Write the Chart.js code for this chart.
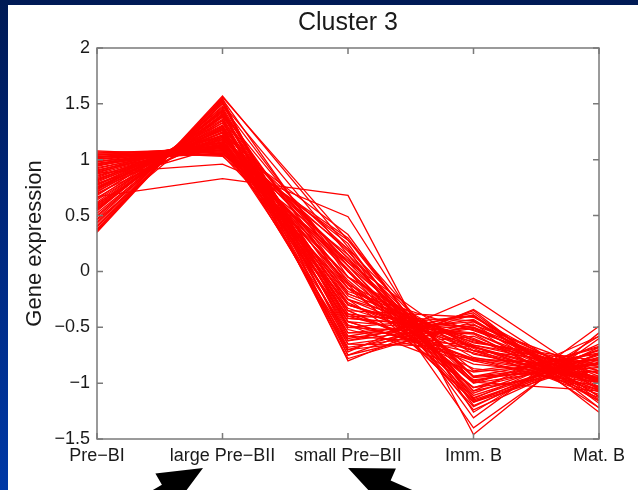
<!DOCTYPE html>
<html>
<head>
<meta charset="utf-8">
<script src="https://cdn.jsdelivr.net/npm/chart.js@4"></script>
<style>
  html, body { margin: 0; padding: 0; }
  body {
    width: 638px; height: 490px; overflow: hidden; position: relative;
    background: linear-gradient(180deg, #001a55 0%, #00277c 45%, #0039a6 100%);
  }
  .panel { position: absolute; left: 8px; top: 5px; right: 0; bottom: 0; background: #fff; }
  #myChart { position: absolute; left: 0; top: 0; }
</style>
</head>
<body>
<div class="panel"></div>
<canvas id="myChart" width="638" height="490"></canvas>
<script>
// stages on the x axis and the y ticks
const stages = ['Pre−BI', 'large Pre−BII', 'small Pre−BII', 'Imm. B', 'Mat. B'];
const yTicks = [-1.5, -1, -0.5, 0, 0.5, 1, 1.5, 2];

// expression of each gene in the cluster, one array per stage (same gene order)
const preBI = [1.08, 1.07, 1.06, 1.05, 1.05, 1.04, 1.03, 1.03, 1.02, 1.01,
  1.00, 1.00, 0.99, 0.98, 0.98, 0.97, 0.96, 0.96, 0.95, 0.95,
  0.94, 0.93, 0.92, 0.91, 0.90, 0.89, 0.88, 0.87, 0.86, 0.85,
  0.84, 0.83, 0.82, 0.81, 0.80, 0.79, 0.78, 0.78, 0.77, 0.76,
  0.75, 0.75, 0.74, 0.74, 0.73, 0.72, 0.71, 0.70, 0.69, 0.68,
  0.66, 0.65, 0.64, 0.62, 0.61, 0.60, 0.59, 0.58, 0.57, 0.56,
  0.56, 0.55, 0.54, 0.52, 0.50, 0.49, 0.47, 0.46, 0.44, 0.43,
  0.41, 0.40, 0.38, 0.37, 0.36, 0.35, 0.67, 0.88, 1.02, 0.95,
  0.90, 0.82];
const largePreBII = [1.03, 1.06, 1.10, 1.04, 1.08, 1.12, 1.05, 1.09, 1.13, 1.07,
  1.10, 1.15, 1.06, 1.11, 1.16, 1.09, 1.13, 1.18, 1.12, 1.15,
  1.20, 1.14, 1.17, 1.13, 1.21, 1.16, 1.22, 1.18, 1.15, 1.20,
  1.24, 1.19, 1.27, 1.22, 1.26, 1.12, 1.29, 1.24, 1.28, 1.25,
  1.30, 1.27, 1.31, 1.20, 1.33, 1.28, 1.36, 1.22, 1.35, 1.38,
  1.33, 1.39, 1.35, 1.40, 1.30, 1.42, 1.38, 1.43, 1.40, 1.45,
  1.41, 1.44, 1.47, 1.44, 1.48, 1.46, 1.50, 1.40, 1.52, 1.50,
  1.53, 1.51, 1.55, 1.54, 1.57, 1.56, 0.83, 0.96, 1.08, 1.12,
  1.18, 1.24];
const smallPreBII = [0.10, -0.05, 0.20, -0.15, 0.05, -0.25, 0.15, -0.30, 0.00, 0.28,
  -0.10, -0.40, 0.08, -0.20, 0.12, -0.35, -0.05, 0.18, -0.45, 0.02,
  -0.22, -0.12, -0.30, -0.55, 0.05, -0.40, -0.15, -0.62, -0.25, 0.12,
  -0.48, -0.35, -0.70, -0.08, -0.42, -0.18, -0.58, -0.28, 0.08, -0.50,
  -0.72, -0.12, -0.38, -0.65, -0.20, -0.52, -0.75, -0.33, 0.00, -0.60,
  -0.45, -0.10, -0.68, -0.38, -0.25, -0.55, -0.78, -0.15, -0.48, -0.35,
  0.05, -0.62, -0.42, -0.70, 0.00, -0.80, -0.50, -0.30, -0.65, 0.15,
  -0.58, -0.45, -0.75, -0.05, 0.22, 0.28, 0.68, 0.49, 0.30, 0.25,
  0.33, 0.20];
const immB = [-0.94, -0.74, -0.94, -0.77, -1.09, -0.60, -0.95, -0.67, -0.94, -0.99,
  -0.97, -0.71, -0.71, -0.62, -1.11, -0.87, -0.69, -1.07, -0.55, -1.17,
  -0.68, -0.66, -0.61, -0.55, -0.89, -0.44, -1.04, -0.37, -0.71, -1.07,
  -0.73, -0.41, -0.39, -1.00, -0.50, -0.53, -0.66, -0.80, -0.98, -0.40,
  -0.24, -1.16, -0.78, -0.50, -0.64, -0.79, -0.35, -0.68, -1.00, -0.43,
  -0.80, -1.04, -0.51, -0.50, -1.04, -0.45, -0.45, -0.67, -0.90, -0.83,
  -1.14, -0.47, -0.52, -0.58, -1.21, -0.34, -0.56, -0.63, -0.67, -1.24,
  -0.39, -0.78, -0.48, -0.99, -1.17, -1.13, -1.46, -1.26, -1.15, -1.31,
  -1.20, -1.40];
const matB = [-0.82, -0.95, -0.73, -0.97, -0.70, -1.07, -0.86, -1.08, -0.89, -0.67,
  -0.82, -1.10, -1.00, -0.89, -0.75, -0.99, -1.13, -0.58, -0.99, -0.70,
  -0.99, -0.85, -0.96, -1.04, -0.74, -1.12, -0.77, -1.18, -0.83, -0.82,
  -1.00, -1.01, -1.26, -0.68, -1.03, -0.92, -0.91, -1.03, -0.78, -1.12,
  -0.99, -0.79, -1.06, -0.94, -0.80, -0.96, -1.22, -0.96, -0.83, -1.12,
  -0.80, -0.89, -0.98, -1.22, -0.71, -1.05, -0.97, -1.06, -0.79, -0.94,
  -0.65, -1.16, -0.96, -1.05, -0.68, -1.06, -1.16, -0.83, -0.98, -0.73,
  -1.15, -0.85, -0.89, -1.07, -0.81, -0.74, -0.55, -0.58, -0.77, -0.49,
  -0.73, -0.60];

const fontFamily = "'Liberation Sans', Arial, Helvetica, sans-serif";
const textColor = '#1a1a1a';

// one red polyline per gene
const datasets = preBI.map((v, i) => ({
  data: [v, largePreBII[i], smallPreBII[i], immB[i], matB[i]],
  borderColor: '#ff0000',
  borderWidth: 1.3,
  pointRadius: 0,
  fill: false,
  tension: 0
}));

// axes box with inward ticks on all four sides
const boxPlugin = {
  id: 'box',
  afterDatasetsDraw(chart) {
    const { ctx, chartArea: { left, right, top, bottom }, scales: { x, y } } = chart;
    ctx.save();
    ctx.strokeStyle = '#7a7a7a';
    ctx.lineWidth = 1.5;
    ctx.strokeRect(left, top, right - left, bottom - top);
    ctx.beginPath();
    yTicks.forEach(v => {
      const py = y.getPixelForValue(v);
      ctx.moveTo(left, py); ctx.lineTo(left + 6, py);
      ctx.moveTo(right, py); ctx.lineTo(right - 6, py);
    });
    stages.forEach((s, i) => {
      const px = x.getPixelForValue(i);
      ctx.moveTo(px, bottom); ctx.lineTo(px, bottom - 6);
      ctx.moveTo(px, top); ctx.lineTo(px, top + 6);
    });
    ctx.stroke();
    ctx.restore();
  }
};

// black arrows pointing at the two Pre-BII labels
function drawArrow(ctx, tipX, tipY, angle) {
  const head = 44, half = 19, shaft = 6, len = 120;
  ctx.save();
  ctx.translate(tipX, tipY);
  ctx.rotate(angle);
  ctx.beginPath();
  ctx.moveTo(0, 0);
  ctx.lineTo(head, -half);
  ctx.lineTo(head, -shaft);
  ctx.lineTo(len, -shaft);
  ctx.lineTo(len, shaft);
  ctx.lineTo(head, shaft);
  ctx.lineTo(head, half);
  ctx.closePath();
  ctx.fillStyle = '#000';
  ctx.fill();
  ctx.restore();
}

const arrowPlugin = {
  id: 'arrows',
  afterDraw(chart) {
    const ctx = chart.ctx;
    drawArrow(ctx, 203, 468, Math.PI - 30 * Math.PI / 180);
    drawArrow(ctx, 348, 468, 24 * Math.PI / 180);
  }
};

const ctx = document.querySelector('#myChart').getContext('2d');
const chart = new Chart(ctx, {
  type: 'line',
  data: { labels: stages, datasets },
  options: {
    responsive: false,
    animation: false,
    layout: { padding: { left: 8, right: 39, top: 0, bottom: 0 } },
    scales: {
      x: {
        grid: { display: false, drawTicks: false },
        border: { display: false },
        ticks: {
          autoSkip: false, maxRotation: 0, padding: 6, color: textColor,
          font: { family: fontFamily, size: 18 }
        },
        afterFit(scale) { scale.height = 51; }
      },
      y: {
        min: -1.5,
        max: 2,
        grid: { display: false, drawTicks: false },
        border: { display: false },
        ticks: {
          stepSize: 0.5, padding: 7, color: textColor,
          font: { family: fontFamily, size: 18 },
          callback: v => String(v).replace('-', '−')
        },
        title: {
          display: true, text: 'Gene expression', color: textColor,
          padding: { top: 14, bottom: 0 },
          font: { family: fontFamily, size: 22 }
        },
        afterFit(scale) { scale.width = 89; }
      }
    },
    plugins: {
      legend: { display: false },
      tooltip: { enabled: false },
      title: {
        display: true,
        text: 'Cluster 3',
        fullSize: false,
        color: textColor,
        padding: { top: 8, bottom: 10 },
        font: { family: fontFamily, size: 25, weight: 'normal' }
      }
    }
  },
  plugins: [boxPlugin, arrowPlugin]
});
</script>
</body>
</html>
